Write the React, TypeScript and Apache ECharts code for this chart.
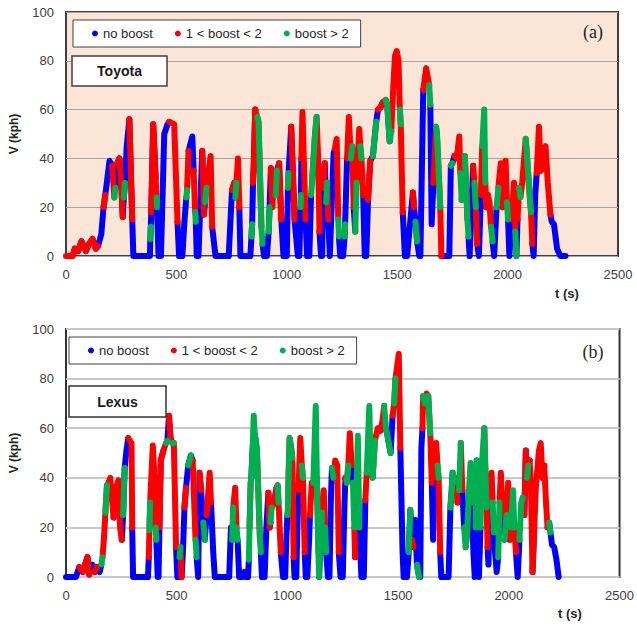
import React, { useEffect, useRef } from 'react';
import * as echarts from 'echarts';

type Pt = [number, number, number]; // [time s, speed kph, boost class of segment starting here]

const boostNames = ['no boost', '1 < boost < 2', 'boost > 2'];
const boostColors = ['#0000FF', '#FF0000', '#00B050'];
const xTicks = { min: 0, max: 2500, step: 500 };
const yTicks = { min: 0, max: 100, step: 20 };

const toyotaTrace: Pt[] = [
  [0,0,1],[30,0,0],[40,3,1],[55,2,0],[70,6,1],[90,2,0],[105,5,1],[120,7,0],[135,3,1],[145,4,0],
  [160,9,0],[170,20,1],[178,25,0],[197,39,0],[209,37,1],[219,24,2],[224,28,0],[232,38,1],[242,40,0],[250,30,1],
  [257,16,0],[262,24,2],[267,30,0],[275,45,0],[287,56,1],[300,15,0],[305,0,0],[380,0,0],[382,7,2],[384,12,0],
  [386,18,1],[388,26,0],[395,54,1],[402,40,0],[406,32,1],[410,24,2],[412,20,0],[419,0,0],[430,0,0],[445,50,0],
  [460,54,0],[467,55,1],[490,54,1],[505,14,0],[512,0,0],[527,0,0],[537,15,0],[545,24,2],[548,27,1],[555,43,0],
  [572,49,0],[578,35,1],[585,18,2],[588,14,0],[592,0,0],[600,0,0],[608,20,0],[617,43,1],[625,17,0],[630,22,2],
  [636,28,1],[655,41,1],[662,12,0],[677,0,0],[737,0,0],[745,15,0],[752,27,1],[762,30,0],[767,24,2],[772,30,1],
  [779,40,1],[785,20,0],[790,0,0],[835,0,0],[840,8,2],[843,13,0],[847,30,1],[850,36,0],[857,60,1],[866,57,2],
  [872,55,1],[885,12,2],[890,5,0],[897,0,0],[910,0,0],[918,10,2],[922,20,0],[928,36,1],[935,20,1],[942,33,0],
  [950,25,2],[955,35,0],[965,38,1],[975,15,0],[985,0,0],[1000,0,0],[1005,28,2],[1008,34,0],[1020,53,1],[1035,15,0],
  [1050,0,0],[1057,0,0],[1062,20,2],[1064,25,0],[1066,40,1],[1071,59,1],[1085,15,0],[1092,0,0],[1102,0,0],[1110,25,2],
  [1114,30,1],[1128,50,2],[1135,57,1],[1142,40,1],[1148,10,0],[1155,0,0],[1160,0,0],[1165,28,1],[1172,38,0],[1178,22,2],
  [1182,30,1],[1188,15,0],[1195,0,0],[1203,20,0],[1212,42,0],[1218,44,1],[1226,48,1],[1233,15,2],[1236,8,0],[1242,0,0],
  [1255,0,0],[1262,8,2],[1264,13,0],[1268,25,0],[1273,40,1],[1281,57,1],[1290,40,2],[1296,45,1],[1303,20,0],[1310,10,2],
  [1316,30,1],[1328,52,1],[1333,45,2],[1338,40,1],[1346,25,0],[1353,0,0],[1360,0,0],[1368,23,1],[1378,39,0],[1390,41,2],
  [1405,55,0],[1413,60,1],[1425,61,0],[1435,63,1],[1448,64,2],[1455,62,0],[1466,47,2],[1473,51,1],[1481,67,1],[1490,82,1],
  [1498,84,1],[1506,80,1],[1512,60,2],[1516,54,1],[1525,18,0],[1535,0,0],[1545,0,0],[1560,15,0],[1571,26,1],[1576,20,0],
  [1583,14,2],[1590,6,0],[1600,0,0],[1605,0,0],[1612,37,0],[1618,68,1],[1631,77,1],[1645,70,2],[1650,62,0],[1656,13,0],
  [1664,30,1],[1676,53,2],[1680,50,1],[1690,30,2],[1695,20,1],[1700,0,0],[1736,0,0],[1743,37,2],[1750,38,0],[1759,41,1],
  [1770,40,1],[1781,49,1],[1786,34,2],[1792,23,0],[1798,30,1],[1806,41,2],[1812,30,1],[1818,15,2],[1823,8,0],[1828,0,0],
  [1835,15,0],[1844,37,1],[1850,30,2],[1856,20,1],[1862,5,0],[1870,0,0],[1879,25,1],[1885,45,2],[1894,60,2],[1899,30,1],
  [1904,20,0],[1910,25,1],[1918,22,1],[1925,12,2],[1932,6,0],[1939,0,0],[1950,20,2],[1958,28,1],[1969,38,1],[1977,20,0],
  [1985,25,1],[1991,39,1],[1997,22,2],[2002,15,0],[2008,0,0],[2018,15,1],[2029,30,1],[2035,10,2],[2040,0,0],[2045,15,1],
  [2052,28,2],[2058,24,1],[2066,30,1],[2075,40,1],[2082,48,2],[2090,38,1],[2100,25,2],[2106,18,1],[2112,5,0],[2118,0,0],
  [2125,25,0],[2132,34,1],[2142,53,1],[2150,35,0],[2158,42,1],[2172,45,1],[2182,30,1],[2194,17,0],[2200,14,0],[2210,13,0],
  [2224,3,0],[2239,0,0],[2262,0,0],
];

const lexusTrace: Pt[] = [
  [0,0,0],[45,0,0],[60,4,1],[75,2,0],[97,8,1],[105,1,0],[119,5,0],[130,2,1],[140,4,0],[152,2,0],
  [160,5,2],[165,8,1],[171,15,1],[178,26,2],[185,37,1],[192,38,1],[200,40,1],[207,32,1],[215,24,0],[222,35,1],
  [237,39,1],[244,20,1],[252,15,0],[258,25,2],[265,44,0],[273,51,0],[281,56,1],[296,54,1],[299,20,0],[303,0,0],
  [370,0,0],[374,8,1],[377,19,2],[380,30,1],[392,53,1],[400,40,1],[405,20,2],[408,15,0],[414,0,0],[418,0,0],
  [422,20,1],[428,47,0],[440,51,1],[452,54,2],[458,55,0],[465,65,1],[472,56,0],[480,54,2],[487,54,1],[497,12,0],
  [503,0,0],[508,0,0],[513,8,2],[517,12,1],[522,0,0],[528,10,0],[535,28,1],[542,36,0],[552,45,2],[564,49,0],
  [572,47,1],[585,15,2],[590,8,0],[597,0,0],[600,0,0],[603,42,1],[610,35,0],[620,22,2],[627,15,0],[635,25,1],
  [649,42,1],[655,30,0],[665,10,0],[672,0,0],[737,0,0],[745,20,0],[750,15,2],[755,28,1],[764,36,1],[770,20,2],
  [775,15,0],[782,0,0],[798,0,0],[804,2,0],[810,0,0],[822,0,0],[826,7,2],[829,20,1],[834,38,2],[837,40,0],
  [843,52,2],[848,65,2],[852,58,0],[857,55,2],[862,52,1],[876,15,2],[880,10,0],[885,0,0],[897,0,0],[905,20,0],
  [914,34,1],[920,20,0],[924,22,2],[929,28,1],[940,30,0],[951,36,1],[956,37,2],[960,30,1],[970,10,0],[980,0,0],
  [990,0,0],[995,15,0],[1000,25,2],[1003,30,1],[1005,40,2],[1010,56,1],[1017,52,2],[1022,48,1],[1028,8,0],[1032,0,0],
  [1040,0,0],[1045,20,0],[1050,35,1],[1058,56,1],[1065,45,2],[1070,40,1],[1078,10,0],[1083,0,0],[1090,0,0],[1098,15,0],
  [1102,25,1],[1110,38,1],[1117,38,2],[1128,69,2],[1133,40,1],[1140,10,2],[1143,0,0],[1150,15,2],[1157,26,1],[1164,35,1],
  [1170,20,2],[1175,10,0],[1183,0,0],[1190,0,0],[1196,30,0],[1201,44,2],[1208,40,1],[1216,47,1],[1225,45,1],[1232,10,0],
  [1240,0,0],[1250,0,0],[1258,30,0],[1262,40,1],[1268,38,2],[1275,45,1],[1282,58,1],[1290,45,0],[1296,38,2],[1302,20,1],
  [1306,8,0],[1310,25,2],[1318,57,2],[1325,20,0],[1334,0,0],[1345,0,0],[1352,31,1],[1358,42,2],[1370,69,2],[1375,45,1],
  [1385,40,2],[1395,55,1],[1408,60,1],[1420,59,0],[1428,62,1],[1437,69,2],[1445,60,0],[1452,57,2],[1466,50,0],[1475,65,1],
  [1482,70,2],[1488,80,1],[1503,90,1],[1510,52,0],[1520,10,0],[1525,0,0],[1540,0,0],[1548,10,2],[1555,27,0],[1563,15,1],
  [1570,12,0],[1577,23,0],[1585,5,2],[1595,0,0],[1600,0,0],[1605,52,0],[1610,60,1],[1613,73,2],[1620,70,1],[1628,74,1],
  [1636,73,2],[1645,58,1],[1652,38,0],[1658,15,0],[1665,40,1],[1672,54,1],[1678,45,2],[1683,40,1],[1690,10,0],[1695,0,0],
  [1728,0,0],[1736,28,2],[1742,35,0],[1746,42,2],[1752,38,1],[1760,40,1],[1768,30,0],[1775,35,2],[1783,54,1],[1790,35,0],
  [1798,20,2],[1805,12,1],[1812,18,2],[1820,35,2],[1827,46,2],[1833,30,0],[1840,10,0],[1846,0,0],[1850,20,2],[1855,47,0],
  [1860,15,0],[1865,0,0],[1872,20,2],[1878,45,2],[1889,60,1],[1895,40,2],[1900,28,1],[1904,12,0],[1908,5,0],[1915,30,1],
  [1922,42,1],[1927,30,2],[1932,18,0],[1938,10,0],[1945,2,0],[1952,8,2],[1958,30,1],[1964,42,1],[1972,25,0],[1980,15,2],
  [1990,25,1],[1997,38,1],[2004,15,0],[2010,20,2],[2019,35,2],[2025,20,1],[2032,10,0],[2040,0,0],[2048,15,2],[2056,30,2],
  [2063,32,1],[2070,25,0],[2077,51,1],[2082,40,2],[2088,45,0],[2094,47,1],[2100,36,1],[2107,2,0],[2115,20,1],[2122,36,1],
  [2136,51,1],[2144,54,1],[2152,40,0],[2160,45,1],[2168,30,1],[2175,20,0],[2182,22,2],[2188,18,0],[2195,13,0],[2205,12,0],
  [2215,7,0],[2225,0,0],
];

const FONT = '"Liberation Sans", Arial, sans-serif';

function buildSeries(trace: Pt[], idx: number) {
  return boostNames.map((name, k) => ({
    type: 'line',
    name,
    xAxisIndex: idx,
    yAxisIndex: idx,
    color: boostColors[k],
    symbol: 'none',
    showSymbol: false,
    clip: false,
    z: 2 + k,
    lineStyle: { width: 6, color: boostColors[k], cap: 'round', join: 'round' },
    data: trace.map(([t, v, c], i) =>
      c === k || (i > 0 && trace[i - 1][2] === k) ? [t, v] : [t, null]
    ),
  }));
}

function xAxisFor(idx: number) {
  return {
    type: 'value',
    gridIndex: idx,
    min: xTicks.min,
    max: xTicks.max,
    interval: xTicks.step,
    axisLine: { show: false },
    axisTick: { show: false },
    splitLine: { show: false },
    axisLabel: {
      margin: 12,
      fontSize: 13,
      color: '#404040',
      fontFamily: FONT,
      formatter: (v: number) => String(v),
    },
  };
}

function yAxisFor(idx: number, gridColor: string, gridWidth: number) {
  return {
    type: 'value',
    gridIndex: idx,
    min: yTicks.min,
    max: yTicks.max,
    interval: yTicks.step,
    name: 'V (kph)',
    nameLocation: 'middle',
    nameGap: 46,
    nameTextStyle: { fontSize: 12, fontWeight: 'bold', color: '#262626', fontFamily: FONT },
    axisLine: { show: false },
    axisTick: { show: false },
    splitLine: { show: true, lineStyle: { color: gridColor, width: gridWidth } },
    axisLabel: {
      margin: 12,
      fontSize: 13,
      color: '#404040',
      fontFamily: FONT,
      formatter: (v: number) => String(v),
    },
  };
}

function legendFor(top: number, left: number) {
  return {
    left,
    top,
    orient: 'horizontal',
    icon: 'circle',
    itemWidth: 6,
    itemHeight: 6,
    itemGap: 22,
    padding: [7, 12, 7, 19],
    borderColor: '#404040',
    borderWidth: 1,
    backgroundColor: '#ffffff',
    selectedMode: false,
    textStyle: { fontSize: 13, color: '#262626', fontFamily: FONT },
    data: boostNames,
  };
}

export default function App() {
  const ref = useRef<HTMLDivElement>(null);
  useEffect(() => {
    if (!ref.current) return;
    const chart = echarts.init(ref.current, undefined, { renderer: 'svg' });
    chart.setOption({
      animation: false,
      backgroundColor: '#ffffff',
      grid: [
        { left: 63, top: 12, width: 555, height: 244, show: true, backgroundColor: '#FBE5D6', borderColor: '#404040', borderWidth: 2 },
        { left: 58, top: 329, width: 566, height: 248, show: true, backgroundColor: '#ffffff', borderColor: '#333333', borderWidth: 2 },
      ],
      xAxis: [xAxisFor(0), xAxisFor(1)],
      yAxis: [yAxisFor(0, '#A6A6A6', 1), yAxisFor(1, '#C8C8C8', 2)],
      legend: [legendFor(20, 73), legendFor(337, 69)],
      series: [...buildSeries(toyotaTrace, 0), ...buildSeries(lexusTrace, 1)],
      graphic: [
        { type: 'rect', z: 100, shape: { x: 72, y: 56, width: 95, height: 30 }, style: { fill: '#fff', stroke: '#404040', lineWidth: 1.5 } },
        { type: 'text', z: 101, x: 119.5, y: 71, style: { text: 'Toyota', font: `bold 14px ${FONT}`, fill: '#1a1a1a', align: 'center', verticalAlign: 'middle' } },
        { type: 'rect', z: 100, shape: { x: 69, y: 386, width: 97, height: 31 }, style: { fill: '#fff', stroke: '#333333', lineWidth: 1.5 } },
        { type: 'text', z: 101, x: 117.5, y: 401.5, style: { text: 'Lexus', font: `bold 14px ${FONT}`, fill: '#1a1a1a', align: 'center', verticalAlign: 'middle' } },
        { type: 'text', z: 101, x: 593, y: 32, style: { text: '(a)', font: '18px "Liberation Serif", serif', fill: '#262626', align: 'center', verticalAlign: 'middle' } },
        { type: 'text', z: 101, x: 593, y: 352, style: { text: '(b)', font: '18px "Liberation Serif", serif', fill: '#262626', align: 'center', verticalAlign: 'middle' } },
        { type: 'text', z: 101, x: 567, y: 293, style: { text: 't (s)', font: `bold 13px ${FONT}`, fill: '#262626', align: 'center', verticalAlign: 'middle' } },
        { type: 'text', z: 101, x: 570, y: 613, style: { text: 't (s)', font: `bold 13px ${FONT}`, fill: '#262626', align: 'center', verticalAlign: 'middle' } },
      ],
    });
    return () => chart.dispose();
  }, []);
  return (
    <div
      ref={ref}
      style={{ position: 'fixed', left: 0, top: 0, width: 637, height: 625, background: '#fff' }}
    />
  );
}
